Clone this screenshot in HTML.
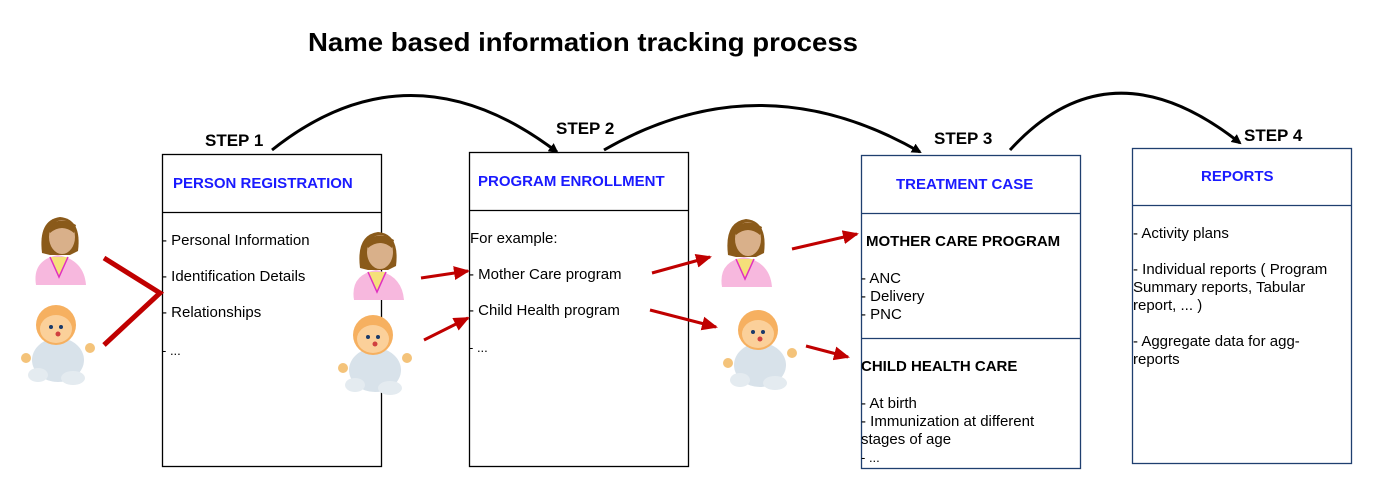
<!DOCTYPE html>
<html><head><meta charset="utf-8"><style>body{margin:0;background:#fff}svg{display:block;font-family:"Liberation Sans",sans-serif}</style></head>
<body>
<svg width="1398" height="489" viewBox="0 0 1398 489">
<defs>
<marker id="ab" markerWidth="10" markerHeight="10" refX="8" refY="5" orient="auto" markerUnits="userSpaceOnUse"><path d="M0,0 L10,5 L0,10 z" fill="#000"/></marker>
<marker id="ar" markerWidth="16" markerHeight="14" refX="14" refY="7" orient="auto" markerUnits="userSpaceOnUse"><path d="M0,0 L16,7 L0,14 z" fill="#c00000"/></marker>
<g id="woman">
<path d="M12,70 Q8,45 34,40 Q60,45 62,70 z" fill="#f7b8de"/>
<path d="M26,42 L35,62 L44,42" fill="#f5e07a" stroke="#e030c0" stroke-width="1.5"/>
<path d="M18,38 Q14,5 36,2 Q58,4 54,36 L46,40 L26,40 z" fill="#8a5a1a"/>
<ellipse cx="38" cy="22" rx="13" ry="17" fill="#d9b08a"/>
<path d="M24,12 Q36,0 52,10 L50,18 Q38,8 26,18 z" fill="#8a5a1a"/>
</g>
<g id="baby">
<ellipse cx="40" cy="60" rx="26" ry="22" fill="#d8e2ea"/>
<ellipse cx="20" cy="75" rx="10" ry="7" fill="#e4ebf0"/>
<ellipse cx="55" cy="78" rx="12" ry="7" fill="#e4ebf0"/>
<circle cx="8" cy="58" r="5" fill="#f4c37a"/>
<circle cx="72" cy="48" r="5" fill="#f4c37a"/>
<circle cx="38" cy="25" r="20" fill="#f6b060"/>
<ellipse cx="38" cy="29" rx="16" ry="14" fill="#fbd09a"/>
<circle cx="33" cy="27" r="2" fill="#1a3a6a"/><circle cx="43" cy="27" r="2" fill="#1a3a6a"/>
<circle cx="40" cy="34" r="2.5" fill="#d04040"/>
</g>
</defs>
<text x="308" y="51" font-size="26" font-weight="bold" textLength="550" lengthAdjust="spacingAndGlyphs">Name based information tracking process</text>

<g fill="none" stroke="#000" stroke-width="3">
<path d="M272,150 Q410,40 557,152" marker-end="url(#ab)"/>
<path d="M604,150 Q760,60 920,152" marker-end="url(#ab)"/>
<path d="M1010,150 Q1110,40 1240,143" marker-end="url(#ab)"/>
</g>
<g font-size="17" font-weight="bold">
<text x="205" y="146">STEP 1</text>
<text x="556" y="134">STEP 2</text>
<text x="934" y="144">STEP 3</text>
<text x="1244" y="141">STEP 4</text>
</g>

<g fill="none" stroke="#000" stroke-width="1.3">
<rect x="162.5" y="154.5" width="219" height="312"/><line x1="162" y1="212.5" x2="382" y2="212.5"/>
<rect x="469.5" y="152.5" width="219" height="314"/><line x1="469" y1="210.5" x2="689" y2="210.5"/>
</g>
<g fill="none" stroke="#1f3f6f" stroke-width="1.3">
<rect x="861.5" y="155.5" width="219" height="313"/><line x1="861" y1="213.5" x2="1081" y2="213.5"/><line x1="861" y1="338.5" x2="1081" y2="338.5"/>
<rect x="1132.5" y="148.5" width="219" height="315"/><line x1="1132" y1="205.5" x2="1352" y2="205.5"/>
</g>

<g font-size="15" font-weight="bold" fill="#1a1aff">
<text x="173" y="188">PERSON REGISTRATION</text>
<text x="478" y="186">PROGRAM ENROLLMENT</text>
<text x="896" y="189">TREATMENT CASE</text>
<text x="1201" y="181">REPORTS</text>
</g>
<g font-size="15" fill="#000">
<text x="162" y="245">- Personal Information</text>
<text x="162" y="281">- Identification Details</text>
<text x="162" y="317">- Relationships</text>
<text x="162" y="355" font-size="13">- ...</text>
<text x="470" y="243">For example:</text>
<text x="469" y="279">- Mother Care program</text>
<text x="469" y="315">- Child Health program</text>
<text x="469" y="352" font-size="13">- ...</text>
<text x="866" y="246" font-weight="bold">MOTHER CARE PROGRAM</text>
<text x="861" y="283">- ANC</text>
<text x="861" y="301">- Delivery</text>
<text x="861" y="319">- PNC</text>
<text x="861" y="371" font-weight="bold">CHILD HEALTH CARE</text>
<text x="861" y="408">- At birth</text>
<text x="861" y="426">- Immunization at different</text>
<text x="861" y="444">stages of age</text>
<text x="861" y="462" font-size="13">- ...</text>
<text x="1133" y="238">- Activity plans</text>
<text x="1133" y="274">- Individual reports ( Program</text>
<text x="1133" y="292">Summary reports, Tabular</text>
<text x="1133" y="310">report, ... )</text>
<text x="1133" y="346">- Aggregate data for agg-</text>
<text x="1133" y="364">reports</text>
</g>

<use href="#woman" x="24" y="215"/>
<use href="#baby" x="18" y="300"/>
<use href="#woman" x="342" y="230"/>
<use href="#baby" x="335" y="310"/>
<use href="#woman" x="710" y="217"/>
<use href="#baby" x="720" y="305"/>

<g stroke="#c00000" stroke-width="5" fill="none">
<polyline points="104,258 160,293 104,345"/>
</g>
<g stroke="#c00000" stroke-width="3" fill="none">
<line x1="421" y1="278" x2="468" y2="271" marker-end="url(#ar)"/>
<line x1="424" y1="340" x2="468" y2="318" marker-end="url(#ar)"/>
<line x1="652" y1="273" x2="710" y2="257" marker-end="url(#ar)"/>
<line x1="650" y1="310" x2="716" y2="327" marker-end="url(#ar)"/>
<line x1="792" y1="249" x2="857" y2="234" marker-end="url(#ar)"/>
<line x1="806" y1="346" x2="848" y2="357" marker-end="url(#ar)"/>
</g>
</svg>
</body></html>
